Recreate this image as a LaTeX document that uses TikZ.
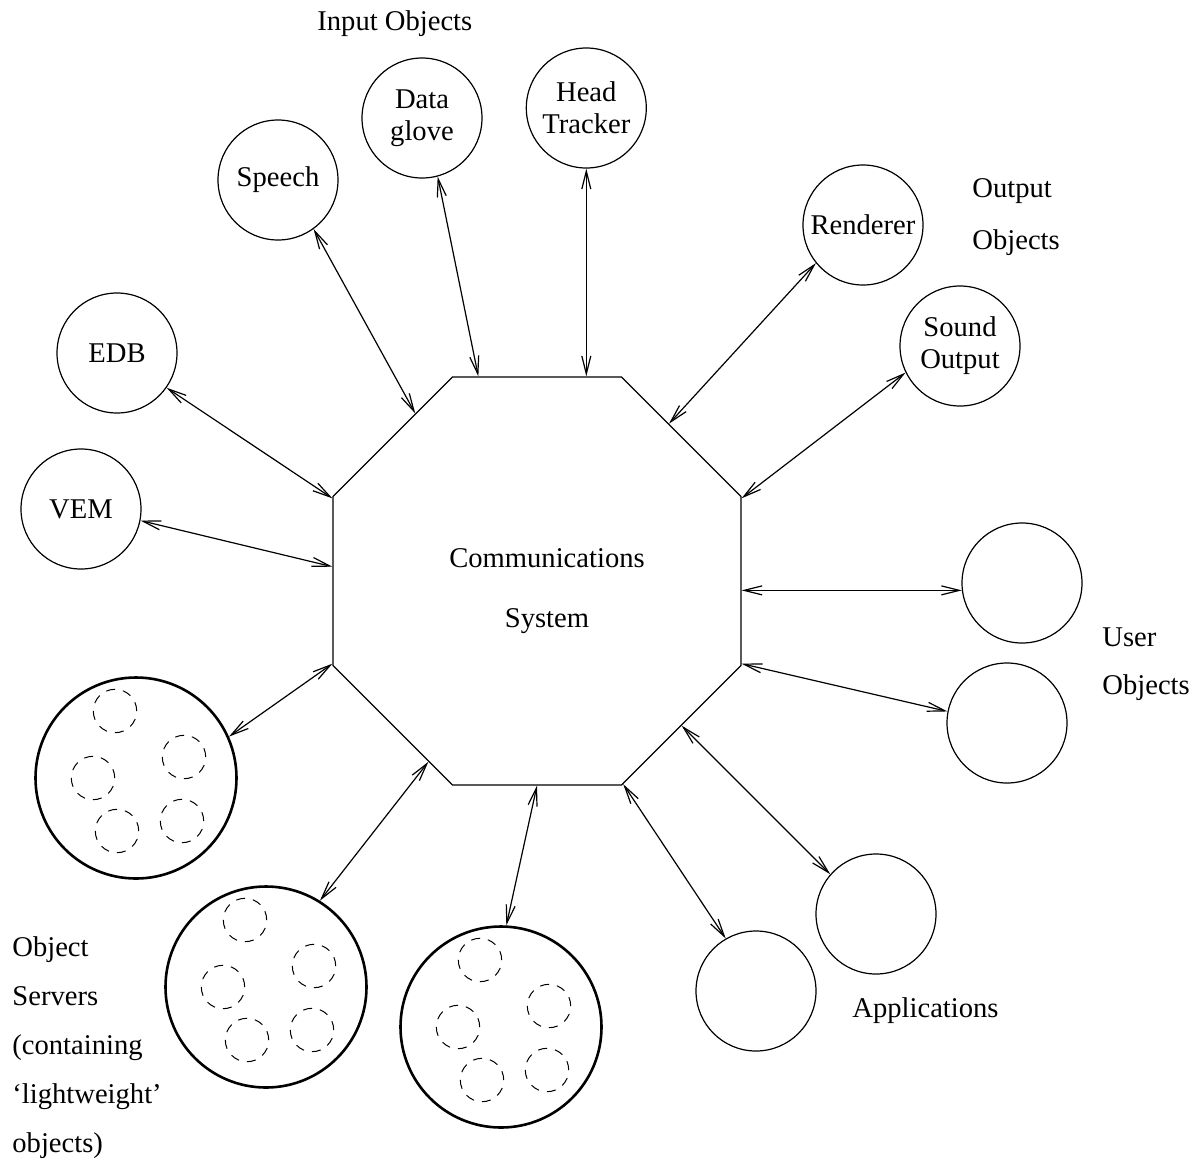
\documentclass[tikz,border=0pt]{standalone}
\usepackage{fontspec}
\setmainfont{Liberation Serif}
\usetikzlibrary{shapes.geometric,arrows.meta,calc}

\tikzset{every node/.style={font=\fontsize{14.3}{16}\selectfont}}
\tikzstyle{obj}=[circle,draw,line width=0.6pt,minimum size=60pt,inner sep=0pt,align=center]
\tikzstyle{server}=[circle,draw,line width=1.3pt,minimum size=100.5pt,inner sep=0pt]
\tikzstyle{lwobj}=[circle,draw,line width=0.5pt,dash pattern=on 4.5pt off 4pt,minimum size=21.7pt,inner sep=0pt]
\tikzstyle{link}=[<->,line width=0.6pt]
\tikzstyle{lbl}=[inner sep=0pt,align=left]

\begin{document}
\begin{tikzpicture}[x=0.5pt,y=-0.5pt,>={Straight Barb[length=9pt,width=4.5pt]}]
            \useasboundingbox (0,0) rectangle (1199,1162);

            \node [regular polygon,regular polygon sides=8,draw,line width=0.6pt,minimum size=220.8pt,inner sep=0pt] (comms) at (537,581) {};
            \node [lbl,align=center,anchor=north,font=\fontsize{14.3}{30}\selectfont] (commslbl) at (547,548) {Communications\\System};

            % input objects
            \node [obj] (speech) at (278,180) {Speech};
            \node [obj] (glove) at (422,118) {Data\\glove};
            \node [obj] (head) at (586.3,108) {Head\\Tracker};
            \node [lbl,anchor=base west] (inputlbl) at (317,30) {Input Objects};

            \draw [link] (speech.306) -- (comms.126);
            \draw [link] (glove.285) -- (comms.106);
            \draw [link] (head.south) -- (head.south |- comms.north);

            % output objects
            \node [obj] (render) at (863,225) {Renderer};
            \node [obj] (sound) at (960,346) {Sound\\Output};
            \node [lbl,anchor=north west,font=\fontsize{14.3}{26}\selectfont] (outputlbl) at (972,178) {Output\\Objects};

            \draw [link] (render.219) -- (comms.50);
            \draw [link] (sound.206) -- (comms.22);

            % user objects
            \node [obj] (user1) at (1022,583) {};
            \node [obj] (user2) at (1007,723) {};
            \node [lbl,anchor=north west,font=\fontsize{14.3}{24}\selectfont] (userlbl) at (1102,627) {User\\Objects};

            \draw [link] (user1.187) -- (user1.187 -| comms.east);
            \draw [link] (user2.169) -- (comms.338);

            % applications
            \node [obj] (app1) at (876,914) {};
            \node [obj] (app2) at (756,991) {};
            \node [lbl,anchor=base west] (applbl) at (852,1017) {Applications};

            \draw [link] (app1.139) -- (comms.315);
            \draw [link] (app2.120) -- (comms.293);

            % EDB and VEM
            \node [obj] (edb) at (117,353) {EDB};
            \node [obj] (vem) at (81,509) {VEM};

            \draw [link] (edb.325) -- (comms.158);
            \draw [link] (vem.349) -- (comms.176);

            % object servers
            \node [server] (os1) at (136,778) {};
            \node [server] (os2) at (266,987) {};
            \node [server] (os3) at (501,1027) {};
            \foreach \s in {os1,os2,os3}
                \foreach \dx/\dy [count=\i] in {-21/-67,48/-21,-43/0,46/43,-19/53}
                    \node [lwobj] (\s-\i) at ($(\s)+(\dx,\dy)$) {};
            \node [lbl,anchor=north west,font=\fontsize{14.3}{24.5}\selectfont] (serverlbl) at (12,936) {Object\\Servers\\(containing\\`lightweight'\\objects)};

            \draw [link] (os1.24) -- (comms.202);
            \draw [link] (os2.58) -- (comms.239);
            \draw [link] (os3.87) -- (comms.south);
        \end{tikzpicture}
\end{document}
